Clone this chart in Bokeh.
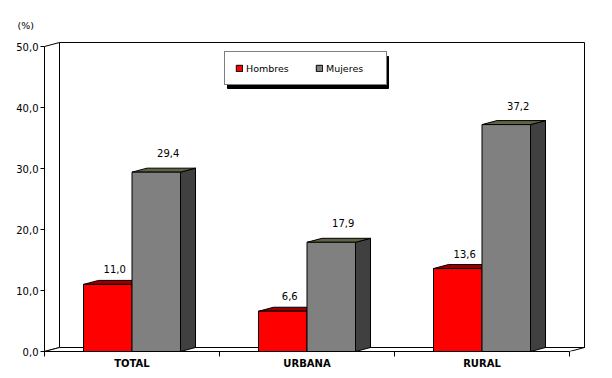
from bokeh.plotting import figure
from bokeh.models import Range1d, FixedTicker, Legend, LegendItem
from bokeh.embed import file_html
from bokeh.resources import INLINE
from bokeh.core.properties import value

# ---- data ----
categories = ["TOTAL", "URBANA", "RURAL"]
hombres = [11.0, 6.6, 13.6]
mujeres = [29.4, 17.9, 37.2]
series_names = ["Hombres", "Mujeres"]
y_ticks = [0, 10, 20, 30, 40, 50]
y_tick_labels = ["0,0", "10,0", "20,0", "30,0", "40,0", "50,0"]
y_max = 50
unit_label = "(%)"

# ---- layout constants (pixels) ----
W, H = 612, 378
FL, FR, FT, FB = 44, 590, 40, 351
PX_CAT = 175.0
PX_UNIT = 6.1
DX = 15 / PX_CAT
DY = 4 / PX_UNIT
BW = 48.5 / PX_CAT
n = len(categories)
FONT = "DejaVu Sans"

p = figure(width=W, height=H, output_backend="svg", toolbar_location=None,
           x_range=Range1d(0, (FR - FL) / PX_CAT),
           y_range=Range1d(0, (FB - FT) / PX_UNIT),
           min_border_left=FL, min_border_right=W - FR,
           min_border_top=FT, min_border_bottom=H - FB)
p.grid.visible = False
p.outline_line_color = None
p.background_fill_color = "white"
p.border_fill_color = "white"

# unit label as a left-aligned title
p.title.text = unit_label
p.title.align = "left"
p.title.offset = 17 - FL
p.title.standoff = 19
p.title.text_font = FONT
p.title.text_font_size = "9.5px"
p.title.text_font_style = "normal"
p.title.text_color = "black"

# ---- axes ----
xa = p.xaxis[0]
xa.ticker = FixedTicker(ticks=[i + 0.5 for i in range(n)], minor_ticks=list(range(n + 1)))
xa.major_label_overrides = {i + 0.5: c for i, c in enumerate(categories)}
xa.bounds = (0, n)
xa.axis_line_color = "black"
xa.major_tick_line_color = None
xa.major_tick_out = 5
xa.major_tick_in = 0
xa.minor_tick_out = 5
xa.minor_tick_in = 0
xa.minor_tick_line_color = "black"
xa.major_label_standoff = 1
xa.major_label_text_font = FONT
xa.major_label_text_font_style = "bold"
xa.major_label_text_font_size = "10px"
xa.major_label_text_color = "black"

ya = p.yaxis[0]
ya.ticker = FixedTicker(ticks=y_ticks, minor_ticks=[])
ya.major_label_overrides = {t: l for t, l in zip(y_ticks, y_tick_labels)}
ya.bounds = (0, y_max)
ya.axis_line_color = "black"
ya.major_tick_out = 4
ya.major_tick_in = 0
ya.minor_tick_line_color = None
ya.major_label_standoff = 2
ya.major_label_text_font = FONT
ya.major_label_text_font_size = "10px"
ya.major_label_text_color = "black"

# ---- 3D walls and floor ----
p.quad(left=DX, right=n + DX, bottom=DY, top=y_max + DY,
       fill_color="white", line_color="black", line_width=1)
p.patch(x=[0, DX, DX, 0], y=[0, DY, y_max + DY, y_max],
        fill_color="white", line_color="black", line_width=1)
p.patch(x=[0, n, n + DX, DX], y=[0, 0, DY, DY],
        fill_color="white", line_color="black", line_width=1)


def draw_bars(x0s, x1s, tops, front, top_col, side_col):
    p.patches(xs=[[b, b + DX, b + DX, b] for b in x1s],
              ys=[[0, DY, t + DY, t] for t in tops],
              fill_color=side_col, line_color="black", line_width=1)
    p.patches(xs=[[a, b, b + DX, a + DX] for a, b in zip(x0s, x1s)],
              ys=[[t, t, t + DY, t + DY] for t in tops],
              fill_color=top_col, line_color="black", line_width=1)
    return p.quad(left=x0s, right=x1s, bottom=0, top=tops,
                  fill_color=front, line_color="black", line_width=1)


centers = [i + 0.5 for i in range(n)]
red_x0 = [c - BW for c in centers]
red_x1 = centers
gray_x0 = centers
gray_x1 = [c + BW for c in centers]

r_h = draw_bars(red_x0, red_x1, hombres, "#FF0000", "#9A0000", "#800000")
r_m = draw_bars(gray_x0, gray_x1, mujeres, "#808080", "#626244", "#404040")


def fmt(v):
    return f"{v:.1f}".replace(".", ",")


p.text(x=[(a + b) / 2 + 7 / PX_CAT for a, b in zip(red_x0, red_x1)],
       y=[v + 15 / PX_UNIT for v in hombres],
       text=[fmt(v) for v in hombres],
       text_font=value(FONT), text_font_size="10px", text_color="black",
       text_align="center", text_baseline="middle")
p.text(x=[(a + b) / 2 + 12 / PX_CAT for a, b in zip(gray_x0, gray_x1)],
       y=[v + 19 / PX_UNIT for v in mujeres],
       text=[fmt(v) for v in mujeres],
       text_font=value(FONT), text_font_size="10px", text_color="black",
       text_align="center", text_baseline="middle")

# ---- legend with shadow ----
LG_L, LG_B = 224, 85          # legend box left / bottom (pixels)
PAD, GW, LS, LW, SP, LH = 10, 8, 3, 50, 19, 12
lg_w = 2 * PAD + 2 * (GW + LS + LW) + SP
lg_h = 2 * PAD + LH
SH = 3
p.quad(left=(LG_L + SH - FL) / PX_CAT, right=(LG_L + lg_w + SH - FL) / PX_CAT,
       top=(FB - (LG_B - lg_h + SH)) / PX_UNIT, bottom=(FB - (LG_B + SH)) / PX_UNIT,
       fill_color="black", line_color="black")

legend = Legend(items=[LegendItem(label=series_names[0], renderers=[r_h]),
                       LegendItem(label=series_names[1], renderers=[r_m])],
                orientation="horizontal", location=(LG_L - FL, FB - LG_B),
                margin=0, padding=PAD, spacing=SP, glyph_width=GW, glyph_height=GW,
                label_standoff=LS, label_width=LW, label_height=LH,
                label_text_font=FONT, label_text_font_size="9.5px",
                label_text_color="black",
                border_line_color="black", border_line_width=1,
                background_fill_color="white", background_fill_alpha=1)
p.add_layout(legend)

open("out.html", "w").write(file_html(p, INLINE))
